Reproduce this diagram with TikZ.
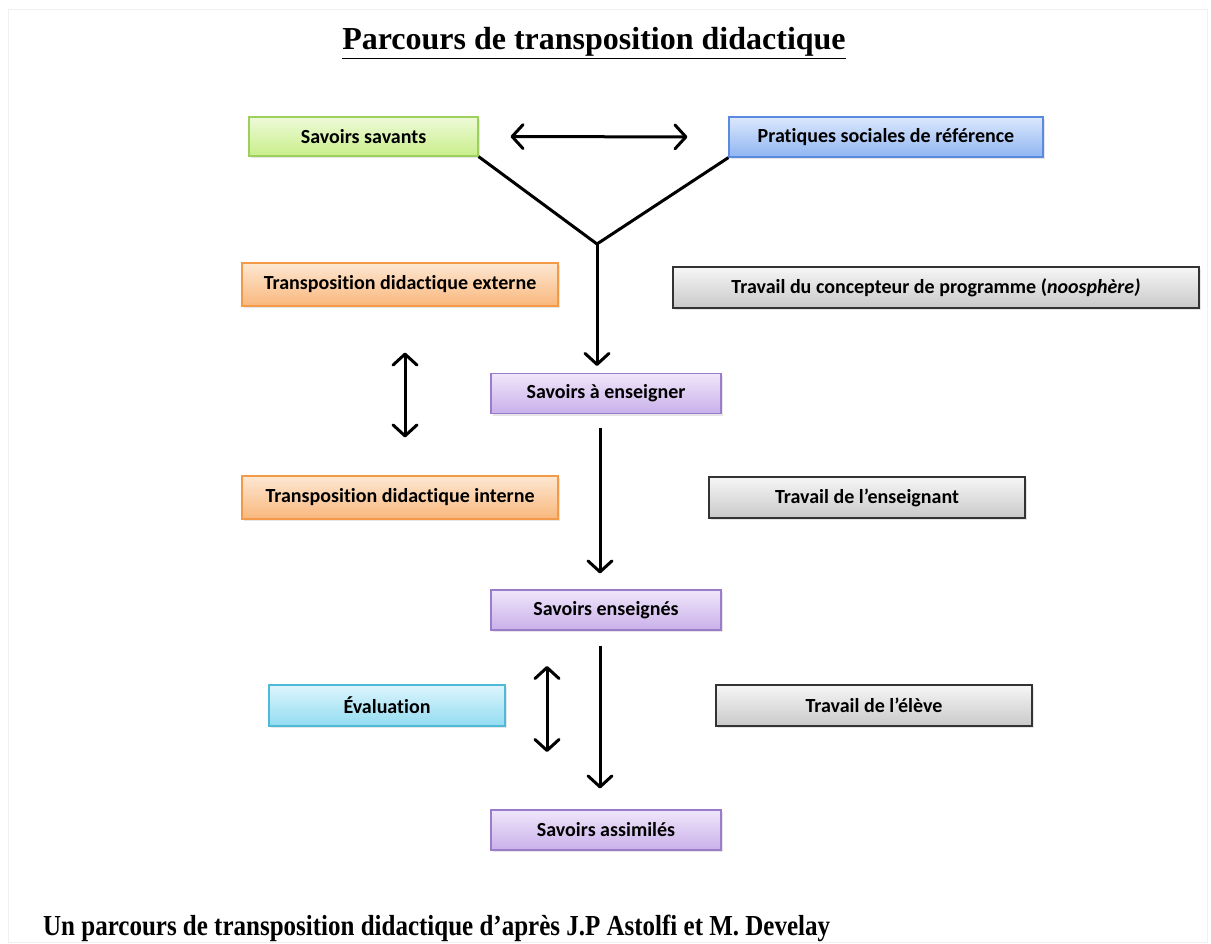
\documentclass[tikz,border=0pt]{standalone}
\usepackage{fontspec}
\setmainfont{Liberation Serif}
\newfontfamily\boxfont[Ligatures=NoCommon]{Carlito}
\usepackage{tikz}
\usetikzlibrary{shapes,arrows,arrows.meta,positioning,calc,shadows}
\usepackage{xcolor}

\definecolor{greenTop}{HTML}{EEFAD8}
\definecolor{greenBot}{HTML}{C8EE8A}
\definecolor{greenLine}{HTML}{9CCF5C}
\definecolor{blueTop}{HTML}{DCE8FC}
\definecolor{blueBot}{HTML}{8FB5F2}
\definecolor{blueLine}{HTML}{5A8BE0}
\definecolor{orangeTop}{HTML}{FDE7D2}
\definecolor{orangeBot}{HTML}{F9B77C}
\definecolor{orangeLine}{HTML}{F29A48}
\definecolor{purpleTop}{HTML}{F0E6FA}
\definecolor{purpleBot}{HTML}{C9B0EA}
\definecolor{purpleLine}{HTML}{9A7CCB}
\definecolor{grayTop}{HTML}{F6F6F6}
\definecolor{grayBot}{HTML}{C9C9C9}
\definecolor{cyanTop}{HTML}{DDF5FC}
\definecolor{cyanBot}{HTML}{92DCF1}
\definecolor{cyanLine}{HTML}{4FB9D9}

\begin{document}
\begin{tikzpicture}[x=1pt, y=-1pt]
    \tikzstyle{box} = [rectangle, draw, line width=1.2pt, text centered, font=\boxfont\bfseries\fontsize{20}{24}\selectfont,
        drop shadow={shadow xshift=1.5pt, shadow yshift=-2pt, opacity=0.2}]
    \tikzstyle{savant} = [box, top color=greenTop, bottom color=greenBot, draw=greenLine]
    \tikzstyle{social} = [box, top color=blueTop, bottom color=blueBot, draw=blueLine]
    \tikzstyle{transpo} = [box, top color=orangeTop, bottom color=orangeBot, draw=orangeLine, minimum width=316pt, minimum height=43pt]
    \tikzstyle{savoir} = [box, top color=purpleTop, bottom color=purpleBot, draw=purpleLine, minimum width=230pt, minimum height=40pt]
    \tikzstyle{travail} = [box, top color=grayTop, bottom color=grayBot, draw=black!80, minimum height=41pt]
    \tikzstyle{evalbox} = [box, top color=cyanTop, bottom color=cyanBot, draw=cyanLine]
    \tikzstyle{flow} = [line width=3pt, -{Straight Barb[round, length=11pt, width=24pt]}]
    \tikzstyle{both} = [line width=3pt, {Straight Barb[round, length=11pt, width=24pt]}-{Straight Barb[round, length=11pt, width=24pt]}]

    \useasboundingbox (0,0) rectangle (1211,944);
    \draw[gray!12, line width=1pt] (8,10) rectangle (1207,942);

    % titre et source
    \node[font=\bfseries\fontsize{32}{36}\selectfont] (titre) at (594,43) {\underline{Parcours de transposition didactique}};
    \node[anchor=west, inner sep=0pt, font=\bfseries\fontsize{29}{32}\selectfont] (source) at (43,928)
        {\scalebox{0.862}[1]{Un parcours de transposition didactique d’après J.P Astolfi et M. Develay}};

    % savoirs de reference
    \node[savant, minimum width=229pt, minimum height=39pt] (savants) at (363.5,136.5) {Savoirs savants};
    \node[social, minimum width=314pt, minimum height=40pt] (pratiques) at (886,137) {Pratiques sociales de référence};
    \coordinate (jonction) at (597,244);

    % chaine centrale
    \node[savoir] (enseigner) at (606,393.5) {Savoirs à enseigner};
    \node[savoir] (enseignes) at (606,610) {Savoirs enseignés};
    \node[savoir] (assimiles) at (606,830) {Savoirs assimilés};

    % colonne de gauche
    \node[transpo] (externe) at (400,284.5) {Transposition didactique externe};
    \node[transpo] (interne) at (400,497.5) {Transposition didactique interne};
    \node[evalbox, minimum width=236pt, minimum height=41pt] (evaluation) at (387,705.5) {Évaluation};
    \coordinate (evalHaut) at (547,666);
    \coordinate (evalBas) at (547,752);

    % colonne de droite
    \node[travail, minimum width=526pt] (concepteur) at (936,287.5) {Travail du concepteur de programme ({\itshape noosphère)}};
    \node[travail, minimum width=316pt] (enseignant) at (867,497.5) {Travail de l’enseignant};
    \node[travail, minimum width=316pt] (eleve) at (874,705.5) {Travail de l’élève};

    % fleches
    \draw[both, shorten <=32pt, shorten >=41pt] (savants.east) -- (pratiques.west);
    \draw[line width=3pt, line join=round] (savants.south east) -- (jonction) -- (pratiques.south west);
    \draw[flow] (jonction) -- ([yshift=7pt]enseigner.north -| jonction);
    \draw[flow, shorten <=14pt, shorten >=16pt] ([xshift=-6pt]enseigner.south) -- ([xshift=-6pt]enseignes.north);
    \draw[flow, shorten <=15pt, shorten >=21pt] ([xshift=-6pt]enseignes.south) -- ([xshift=-6pt]assimiles.north);
    \draw[both, shorten <=46pt, shorten >=38pt] ([xshift=5pt]externe.south) -- ([xshift=5pt]interne.north);
    \draw[both] (evalHaut) -- (evalBas);
\end{tikzpicture}
\end{document}
